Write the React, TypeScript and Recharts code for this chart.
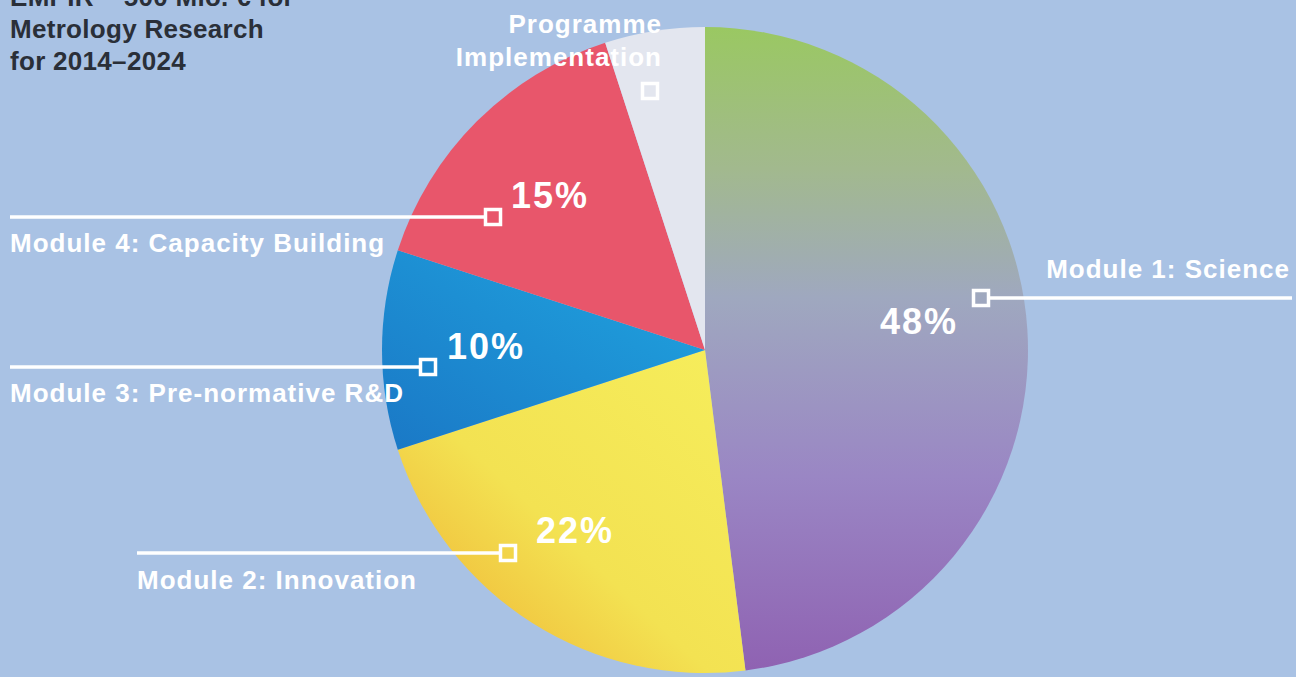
import React from 'react';
import { PieChart, Pie, Cell } from 'recharts';

const categories = [
  'Module 1: Science',
  'Module 2: Innovation',
  'Module 3: Pre-normative R&D',
  'Module 4: Capacity Building',
  'Programme Implementation',
];
const shares = [48, 22, 10, 15, 5];
const pctLabels = ['48%', '22%', '10%', '15%', ''];
const titleLines = ['EMPIR – 500 Mio. € for', 'Metrology Research', 'for 2014–2024'];

const data = categories.map((name, i) => ({ name, value: shares[i] }));
const fills = ['url(#gSci)', 'url(#gInn)', 'url(#gPre)', '#e8566b', '#e3e6ef'];

// annotation layout (positions only)
const ann = [
  { sq: [981, 298], line: [990, 1292, 298], tx: 1290, ty: 278, anchor: 'end', px: 919, py: 334 },
  { sq: [508, 553], line: [137, 499, 553], tx: 137, ty: 589, anchor: 'start', px: 575, py: 543 },
  { sq: [428, 367], line: [10, 419, 367], tx: 10, ty: 402, anchor: 'start', px: 486, py: 359 },
  { sq: [493, 217], line: [10, 484, 217], tx: 10, ty: 252, anchor: 'start', px: 550, py: 208 },
  { sq: [650, 91], line: null, tx: 662, ty: 33, anchor: 'end', px: 0, py: 0 },
];

const FONT = '"Liberation Sans", Arial, Helvetica, sans-serif';

const renderLabel = (props: any) => {
  const i = props.index;
  const a = ann[i];
  const s = 9;
  return (
    <g key={`ann-${i}`}>
      {a.line && (
        <line x1={a.line[0]} x2={a.line[1]} y1={a.line[2]} y2={a.line[2]} stroke="#fff" strokeWidth={3.5} />
      )}
      <rect x={a.sq[0] - s + 1.5} y={a.sq[1] - s + 1.5} width={2 * s - 3} height={2 * s - 3} fill="none" stroke="#fff" strokeWidth={3.5} />
      {i === 4 ? (
        <text x={a.tx} y={a.ty} textAnchor="end" fill="#fff" fontFamily={FONT} fontWeight="bold" fontSize={26} letterSpacing={1}>
          <tspan x={a.tx} y={a.ty}>Programme</tspan>
          <tspan x={a.tx} y={a.ty + 33}>Implementation</tspan>
        </text>
      ) : (
        <text x={a.tx} y={a.ty} textAnchor={a.anchor as any} fill="#fff" fontFamily={FONT} fontWeight="bold" fontSize={26} letterSpacing={1}>
          {categories[i]}
        </text>
      )}
      {pctLabels[i] && (
        <text x={a.px} y={a.py} textAnchor="middle" fill="#fff" fontFamily={FONT} fontWeight="bold" fontSize={36} letterSpacing={2}>
          {pctLabels[i]}
        </text>
      )}
    </g>
  );
};

export default function App() {
  return (
    <div style={{ position: 'fixed', left: 0, top: 0, width: 1296, height: 677, background: '#a9c2e4', overflow: 'hidden' }}>
      <PieChart width={1296} height={677} margin={{ top: 0, right: 0, bottom: 0, left: 0 }}>
        <defs>
          <linearGradient id="gSci" x1="0" y1="0" x2="0" y2="1">
            <stop offset="0%" stopColor="#9ac862" />
            <stop offset="22%" stopColor="#a2b98e" />
            <stop offset="42%" stopColor="#9fa8bf" />
            <stop offset="70%" stopColor="#9a86c4" />
            <stop offset="100%" stopColor="#8f62b2" />
          </linearGradient>
          <linearGradient id="gInn" x1="1" y1="0" x2="0" y2="1">
            <stop offset="0%" stopColor="#f6ee5c" />
            <stop offset="55%" stopColor="#f3e252" />
            <stop offset="100%" stopColor="#efaa2e" />
          </linearGradient>
          <linearGradient id="gPre" x1="1" y1="0" x2="0" y2="1">
            <stop offset="0%" stopColor="#20a6e0" />
            <stop offset="100%" stopColor="#1a78c6" />
          </linearGradient>
        </defs>
        <Pie
          data={data}
          dataKey="value"
          nameKey="name"
          cx={705}
          cy={350}
          outerRadius={323}
          startAngle={90}
          endAngle={-270}
          stroke="none"
          label={renderLabel}
          labelLine={false}
          isAnimationActive={false}
        >
          {data.map((d, i) => (
            <Cell key={d.name} fill={fills[i]} />
          ))}
        </Pie>
      </PieChart>
      <div style={{ position: 'absolute', left: 10, top: -19, fontFamily: FONT, fontWeight: 'bold', fontSize: 26, lineHeight: '32px', letterSpacing: 0.3, color: '#2a2f38', whiteSpace: 'nowrap' }}>
        {titleLines.map((t) => (
          <div key={t}>{t}</div>
        ))}
      </div>
    </div>
  );
}
